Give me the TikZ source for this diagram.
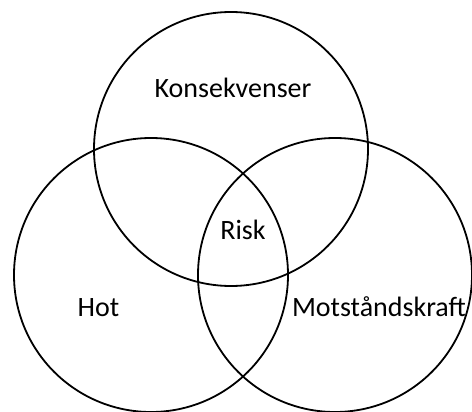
\documentclass[tikz,border=0pt]{standalone}
\usepackage{fontspec}
\setmainfont{Carlito}
\begin{document}
\begin{tikzpicture}[x=1pt,y=-1pt,
  venn/.style={circle,draw=black,line width=1.8pt,minimum size=274pt,inner sep=0pt},
  lbl/.style={inner sep=0pt,anchor=base,font=\fontsize{28}{32}\selectfont}]
\useasboundingbox (0,0) rectangle (472,412);
\node[venn] (kons) at (231,149) {};
\node[venn] (hot) at (151,275) {};
\node[venn] (mot) at (335,275) {};
\node[lbl] (tk) at (233,98) {Konsekvenser};
\node[lbl] (tr) at (243,239) {Risk};
\node[lbl] (th) at (98.5,316) {Hot};
\node[lbl] (tm) at (379,316) {Motståndskraft};
\end{tikzpicture}
\end{document}
